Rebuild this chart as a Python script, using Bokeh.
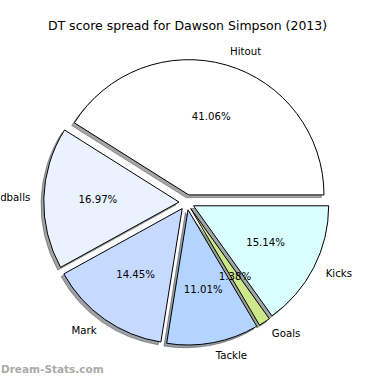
import numpy as np
from bokeh.plotting import figure
from bokeh.models import Range1d, ColumnDataSource
from bokeh.core.properties import value
from bokeh.embed import file_html
from bokeh.resources import INLINE

# ---- data ----
labels = ["Hitout", "Handballs", "Mark", "Tackle", "Goals", "Kicks"]
shares = [41.06, 16.97, 14.45, 11.01, 1.38, 15.14]
colors = ["#FFFFFF", "#EBF2FF", "#C6D9FF", "#B3D4FF", "#CCE88A", "#D9FFFF"]
title_text = "DT score spread for Dawson Simpson (2013)"
watermark = "Dream-Stats.com"

# ---- geometry (pixels) ----
W = H = 374
K = W / 390.0             # scale from the 390px reference
S = 141.0 * K             # pixels per unit radius
cx_px, cy_px = 194.1 * K, 210.4 * K
explode = 8.0 / 141.0
shadow_off = 0.02

vals = np.array(shares, dtype=float)
fr = vals / vals.sum()
ends = np.cumsum(fr) * 2 * np.pi
starts = ends - fr * 2 * np.pi
mids = (starts + ends) / 2
ox = explode * np.cos(mids)
oy = explode * np.sin(mids)


def shade(h):
    h = h.lstrip("#")
    r, g, b = (int(h[i:i + 2], 16) for i in (0, 2, 4))
    return "#%02x%02x%02x" % (int(r * 0.3), int(g * 0.3), int(b * 0.3))


def px(xp, yp):
    """reference pixel -> data coords"""
    return (xp * K - cx_px) / S, (cy_px - yp * K) / S


src = ColumnDataSource(dict(
    x=ox, y=oy, sx=ox - shadow_off, sy=oy - shadow_off,
    start=starts, end=ends, color=colors,
    scolor=[shade(c) for c in colors],
))

p = figure(width=W, height=H,
           x_range=Range1d(-cx_px / S, (W - cx_px) / S),
           y_range=Range1d(-(H - cy_px) / S, cy_px / S),
           output_backend="svg", toolbar_location=None,
           x_axis_location=None, y_axis_location=None, min_border=0)
p.grid.visible = False
p.outline_line_color = None
p.background_fill_color = "white"
p.border_fill_color = "white"

# shadows
p.wedge(x="sx", y="sy", radius=1.0, start_angle="start", end_angle="end",
        direction="anticlock", fill_color="scolor", fill_alpha=0.5,
        line_color="scolor", line_alpha=0.5, line_width=1, source=src)
# wedges
p.wedge(x="x", y="y", radius=1.0, start_angle="start", end_angle="end",
        direction="anticlock", fill_color="color", line_color="black",
        line_width=1, source=src)

fs = "%.1fpx" % (10.6 * K)

# labels
lab_src = ColumnDataSource(dict(
    x=ox + 1.1 * np.cos(mids), y=oy + 1.1 * np.sin(mids), text=labels,
    align=["left" if np.cos(m) > 0 else "right" for m in mids],
))
p.text(x="x", y="y", text="text", text_align="align", text_baseline="middle",
       text_font=value("DejaVu Sans"), text_font_size=fs,
       text_color="black", source=lab_src)

pct_src = ColumnDataSource(dict(
    x=ox + 0.6 * np.cos(mids), y=oy + 0.6 * np.sin(mids),
    text=["%.2f%%" % v for v in shares],
))
p.text(x="x", y="y", text="text", text_align="center", text_baseline="middle",
       text_font=value("DejaVu Sans"), text_font_size=fs,
       text_color="black", source=pct_src)

# title
tx, ty = px(195.0, 25.7)
p.text(x=[tx], y=[ty], text=[title_text],
       text_align="center", text_baseline="middle",
       text_font=value("DejaVu Sans"), text_font_size="%.1fpx" % (13 * K),
       text_color="black")

# watermark
wx, wy = px(0.5, 384.0)
p.text(x=[wx], y=[wy], text=[watermark],
       text_align="left", text_baseline="alphabetic",
       text_font=value("DejaVu Sans"), text_font_size="%.1fpx" % (11 * K),
       text_font_style="bold", text_color="#AAAAAA")

open("out.html", "w").write(file_html(p, INLINE))
